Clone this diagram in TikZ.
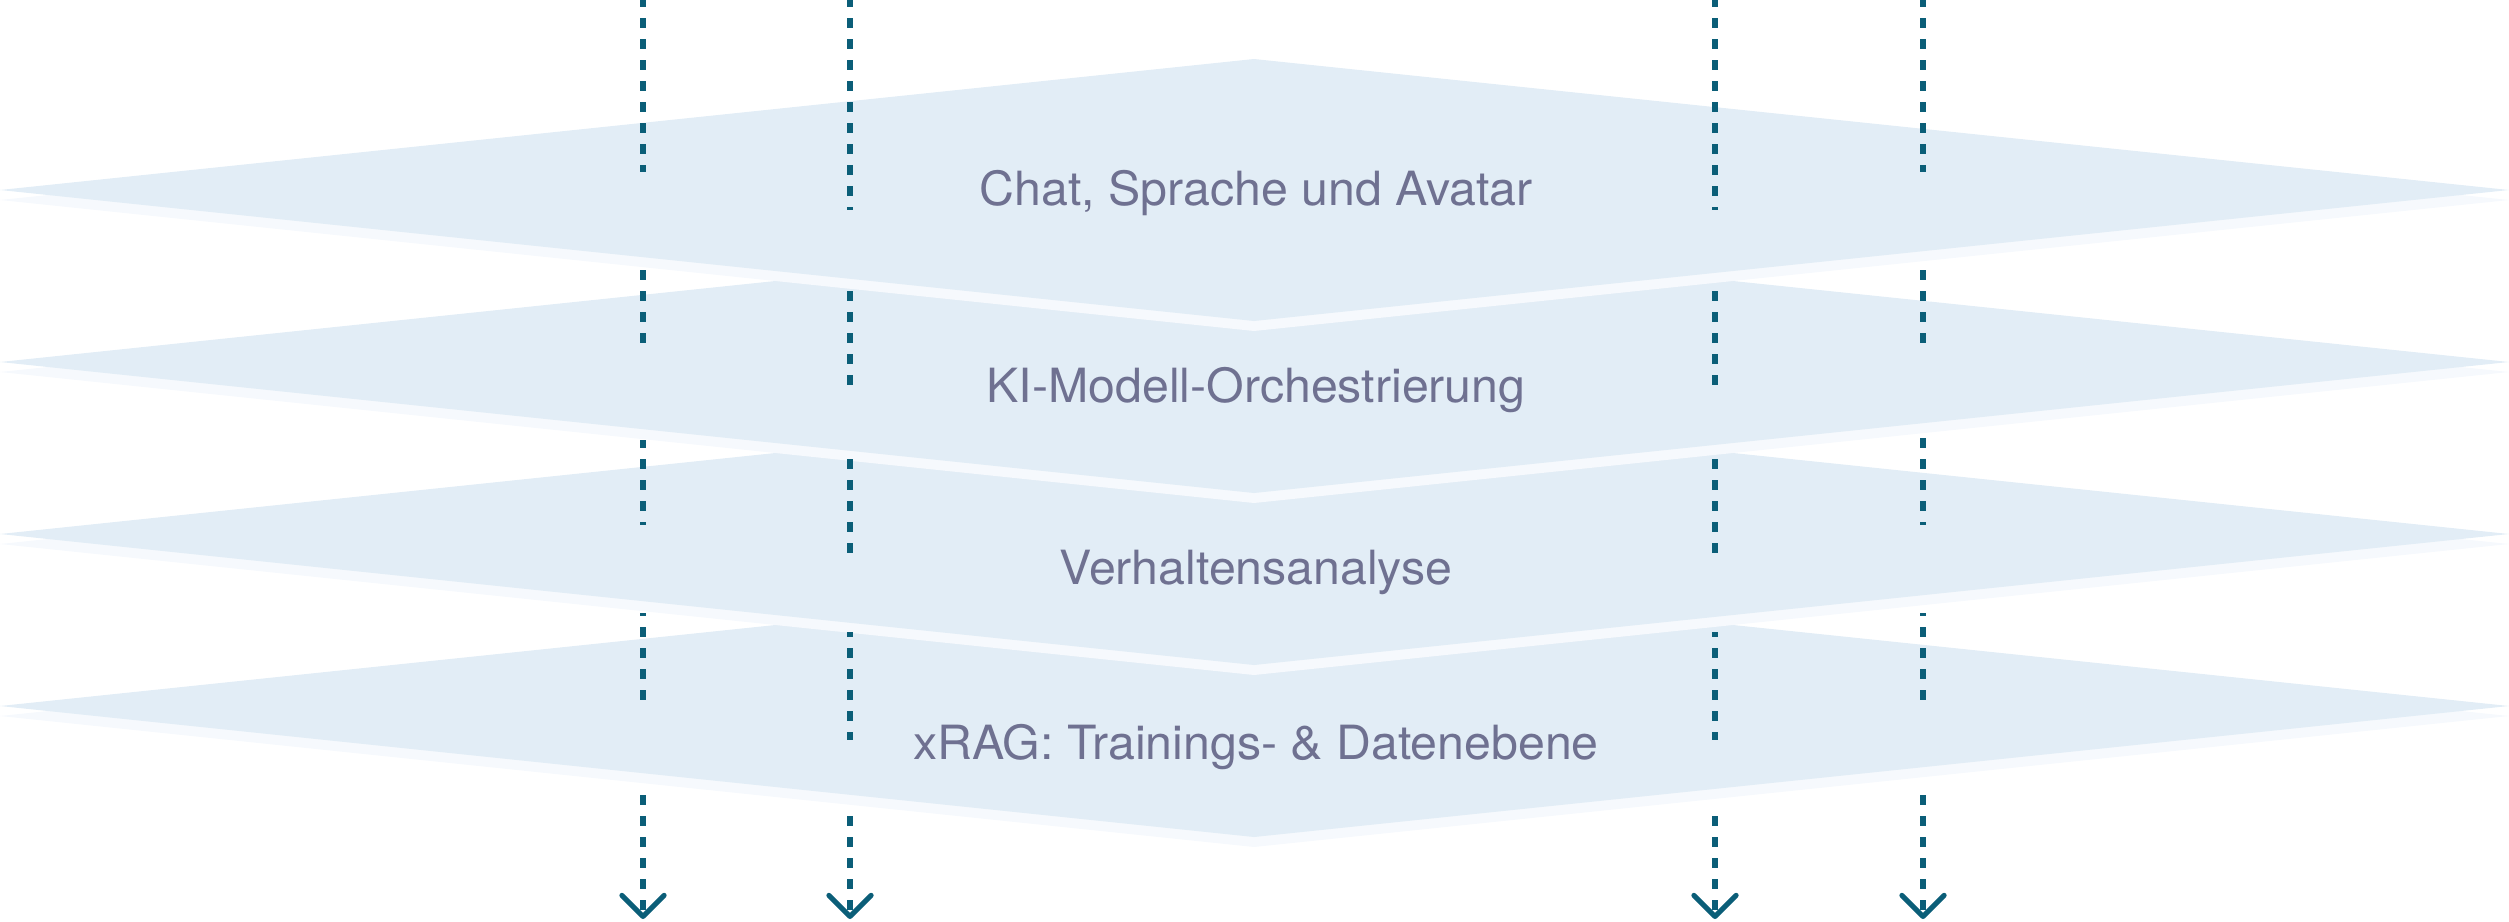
\documentclass[tikz,border=0pt]{standalone}
\usepackage{fontspec}
\setmainfont{TeX Gyre Heros}
\usetikzlibrary{arrows.meta}
\definecolor{layerblue}{HTML}{E2EDF6}
\definecolor{layerrim}{HTML}{F6F9FD}
\definecolor{layertext}{HTML}{6F7191}
\definecolor{flowteal}{HTML}{0B5E78}

\tikzset{
  layer/.style={fill=layerblue, draw=none},
  rim/.style={fill=layerrim, draw=none},
  layerlabel/.style={text=layertext, font=\fontsize{13.4}{15}\selectfont, anchor=base, inner sep=0pt, xscale=1.025},
  flow/.style={draw=flowteal, line width=1.45pt},
  flowtip/.style={-{Straight Barb[length=6pt, width=12pt, line cap=round, line join=round]}},
}

\begin{document}
\begin{tikzpicture}[x=0.01cm, y=-0.01cm]
\useasboundingbox (0,0) rectangle (2509,921);

% stacked layers, lowest first
\foreach \cy in {706,534,362,190}{
  \path[rim] (0,\cy+10) -- (1254,\cy-121) -- (2509,\cy+10) -- (1254,\cy+141) -- cycle;
  \path[layer] (0,\cy) -- (1254,\cy-131) -- (2509,\cy) -- (1254,\cy+131) -- cycle;
}

% layer names
\node[layerlabel] (chat) at (1256,205) {Chat, Sprache und Avatar};
\node[layerlabel] (ki) at (1256,402) {KI-Modell-Orchestrierung};
\node[layerlabel] (verhalten) at (1256,584) {Verhaltensanalyse};
\node[layerlabel] (xrag) at (1256,759) {xRAG: Trainings- \& Datenebene};

% dashed flows through the stack
\foreach \fx/\segs/\ylast in {643/{0/172,265/348,440/525,613/702}/792,
                              1923/{0/172,262/348,437/525,613/702}/792,
                              850/{0/210,287/387,458/563,632/740}/810,
                              1715/{0/210,283/387,458/563,632/740}/810}{
  \foreach \ya/\yb in \segs{
    \pgfmathsetmacro\ph{mod(\ya+3,21)*0.28453}
    \coordinate (fa) at (\fx,\ya);
    \coordinate (fb) at (\fx,\yb);
    \draw[flow, dash pattern=on 2.85pt off 3.13pt, dash phase=\ph pt] (fa) -- (fb);
  }
  \pgfmathsetmacro\ph{mod(\ylast+3,21)*0.28453}
  \coordinate (fa) at (\fx,\ylast);
  \coordinate (fb) at (\fx,919);
  \draw[flow, flowtip, dash pattern=on 2.85pt off 3.13pt, dash phase=\ph pt] (fa) -- (fb);
}
\end{tikzpicture}
\end{document}
